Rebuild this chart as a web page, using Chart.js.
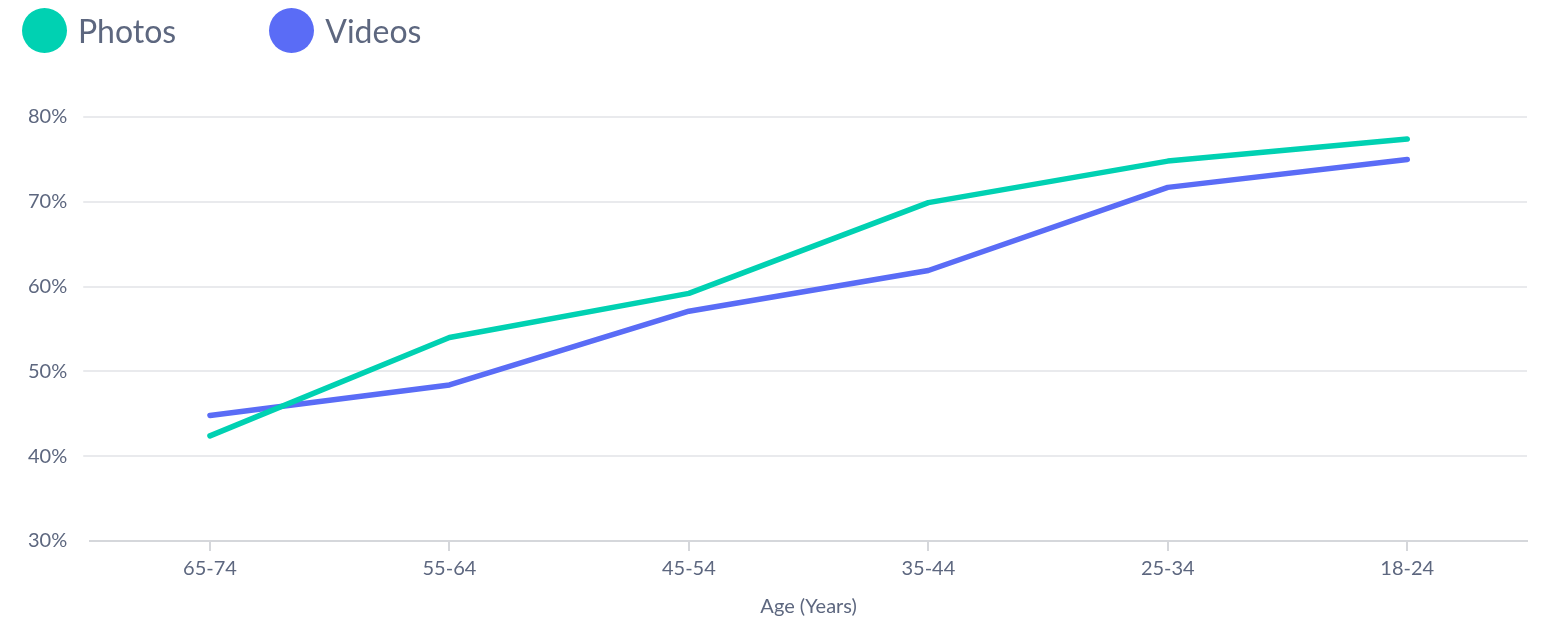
<!DOCTYPE html>
<html>
<head>
<meta charset="utf-8">
<script src="https://cdn.jsdelivr.net/npm/chart.js@4/dist/chart.umd.min.js"></script>
<style>
  html, body { margin: 0; padding: 0; background: #fff; }
  body { width: 1545px; height: 620px; position: relative; overflow: hidden; font-family: Lato, sans-serif; }
  .legend { position: absolute; left: 22px; top: 8px; display: flex; align-items: center; z-index: 2; }
  .legend-item { display: flex; align-items: center; color: #5d677f; font-size: 32px; }
  .legend-dot { width: 45px; height: 45px; border-radius: 50%; margin-right: 11px; }
  .chart-wrap { position: absolute; left: 0; top: 0; width: 1545px; height: 620px; }
</style>
</head>
<body>
<div class="legend" id="legend"></div>
<div class="chart-wrap"><canvas id="chart"></canvas></div>
<script>
const ageGroups = ['65-74', '55-64', '45-54', '35-44', '25-34', '18-24'];
const photos = [42.4, 54.0, 59.2, 69.9, 74.8, 77.4];
const videos = [44.8, 48.4, 57.1, 61.9, 71.7, 75.0];
const seriesNames = ['Photos', 'Videos'];
const seriesColors = ['#00d1b2', '#5a6cf6'];
const textColor = '#5d677f';

function buildLegendHTML() {
  const gaps = [0, 93];
  return seriesNames.map((name, i) => `
    <div class="legend-item" style="margin-left:${gaps[i]}px">
      <span class="legend-dot" style="background:${seriesColors[i]}"></span>${name}
    </div>
  `).join('');
}
document.getElementById('legend').innerHTML = buildLegendHTML();

const ctx = document.getElementById('chart').getContext('2d');
new Chart(ctx, {
  type: 'line',
  data: {
    labels: ageGroups,
    datasets: [photos, videos].map((values, i) => ({
      label: seriesNames[i],
      data: values,
      borderColor: seriesColors[i],
      backgroundColor: seriesColors[i],
      borderWidth: 5.5,
      borderCapStyle: 'round',
      borderJoinStyle: 'round',
      pointRadius: 0,
      tension: 0,
      fill: false,
    }))
  },
  options: {
    responsive: true,
    maintainAspectRatio: false,
    animation: false,
    layout: { padding: { top: 117, right: 18, bottom: 1, left: 12 } },
    plugins: {
      legend: { display: false },
      tooltip: { enabled: false }
    },
    scales: {
      x: {
        offset: true,
        grid: { drawOnChartArea: false, drawTicks: true, tickLength: 10, color: '#d5d7db', lineWidth: 2 },
        border: { color: '#d5d7db', width: 2 },
        ticks: { color: textColor, font: { family: 'Lato', size: 20 }, padding: 6, maxRotation: 0 },
        title: { display: true, text: 'Age (Years)', color: textColor, font: { family: 'Lato', size: 20 }, padding: { top: 8, bottom: 0 } }
      },
      y: {
        min: 30,
        max: 80,
        grid: {
          color: c => c.index === 0 ? 'transparent' : '#e9eaed',
          lineWidth: 2,
          tickLength: 7
        },
        border: { display: false },
        ticks: {
          stepSize: 10,
          color: textColor,
          font: { family: 'Lato', size: 20 },
          padding: 16,
          callback: v => v + '%'
        }
      }
    }
  }
});
</script>
</body>
</html>
